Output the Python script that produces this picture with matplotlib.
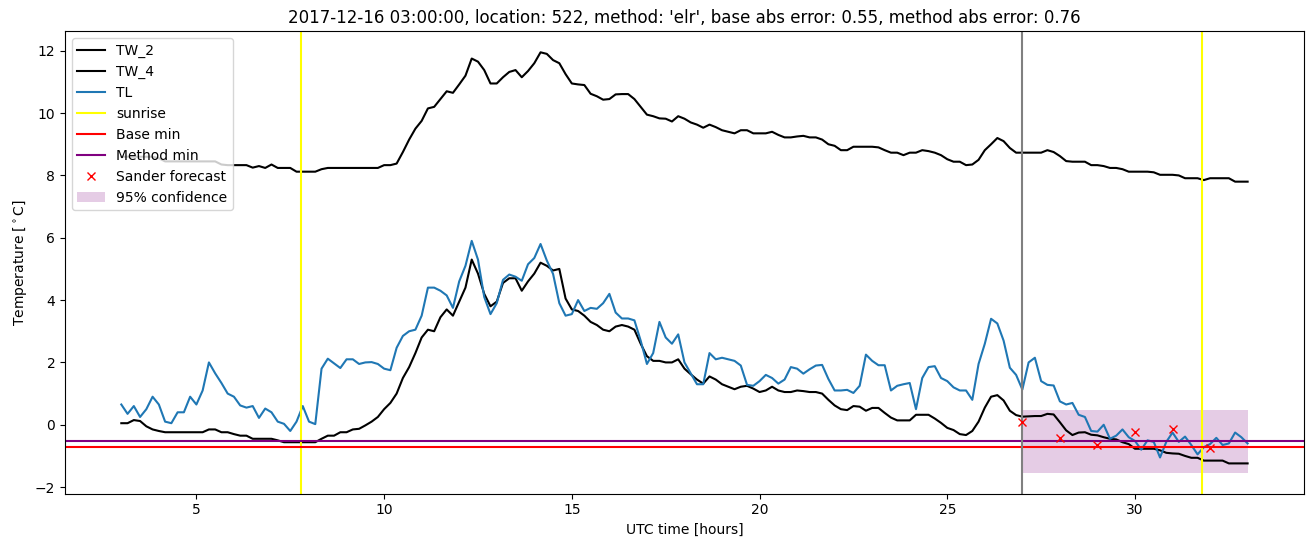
import numpy as np
import matplotlib
matplotlib.use("Agg")
import matplotlib.pyplot as plt

# temperature series, 10 minute steps from 03:00 to 33:00 (hours since midnight)
tw_2 = [0.05, 0.05, 0.15, 0.12, -0.05, -0.15,
        -0.2, -0.24, -0.24, -0.24, -0.24, -0.24,
        -0.24, -0.24, -0.15, -0.15, -0.24, -0.24,
        -0.3, -0.35, -0.35, -0.45, -0.45, -0.45,
        -0.45, -0.5, -0.56, -0.56, -0.56, -0.56,
        -0.56, -0.56, -0.45, -0.35, -0.35, -0.24,
        -0.24, -0.15, -0.13, -0.02, 0.1, 0.25,
        0.5, 0.7, 1.0, 1.5, 1.85, 2.3,
        2.8, 3.05, 3.0, 3.45, 3.7, 3.5,
        3.95, 4.4, 5.3, 4.85, 4.2, 3.8,
        3.95, 4.55, 4.7, 4.7, 4.3, 4.6,
        4.85, 5.2, 5.1, 4.95, 5.0, 4.05,
        3.7, 3.65, 3.5, 3.3, 3.2, 3.05,
        3.0, 3.15, 3.2, 3.15, 3.05, 2.6,
        2.2, 2.05, 2.05, 2.0, 2.0, 2.1,
        1.8, 1.62, 1.45, 1.32, 1.55, 1.45,
        1.3, 1.22, 1.14, 1.22, 1.25, 1.16,
        1.05, 1.1, 1.22, 1.1, 1.05, 1.05,
        1.1, 1.08, 1.05, 1.05, 1.0, 0.8,
        0.62, 0.5, 0.47, 0.6, 0.58, 0.45,
        0.54, 0.54, 0.38, 0.23, 0.14, 0.14,
        0.14, 0.32, 0.32, 0.32, 0.2, 0.06,
        -0.1, -0.17, -0.3, -0.33, -0.2, 0.1,
        0.55, 0.9, 0.95, 0.78, 0.45, 0.31,
        0.26, 0.27, 0.28, 0.28, 0.35, 0.33,
        0.08, -0.18, -0.33, -0.25, -0.24, -0.32,
        -0.34, -0.4, -0.45, -0.47, -0.56, -0.62,
        -0.77, -0.77, -0.77, -0.77, -0.82, -0.9,
        -0.92, -0.93, -1.0, -1.06, -1.06, -1.15,
        -1.15, -1.15, -1.15, -1.24, -1.24, -1.24,
        -1.24]

tw_4 = [8.6, 8.6, 8.6, 8.6, 8.6, 8.6,
        8.55, 8.45, 8.45, 8.45, 8.45, 8.45,
        8.45, 8.45, 8.45, 8.45, 8.35, 8.33,
        8.33, 8.33, 8.33, 8.25, 8.3, 8.24,
        8.35, 8.24, 8.24, 8.24, 8.12, 8.12,
        8.12, 8.12, 8.2, 8.24, 8.24, 8.24,
        8.24, 8.24, 8.24, 8.24, 8.24, 8.24,
        8.33, 8.33, 8.38, 8.75, 9.15, 9.5,
        9.75, 10.15, 10.2, 10.45, 10.7, 10.65,
        10.92, 11.2, 11.75, 11.65, 11.38, 10.95,
        10.95, 11.15, 11.32, 11.38, 11.15, 11.35,
        11.6, 11.95, 11.9, 11.7, 11.6, 11.25,
        10.95, 10.92, 10.9, 10.62, 10.54, 10.43,
        10.45, 10.6, 10.61, 10.61, 10.45, 10.2,
        9.95, 9.9, 9.83, 9.82, 9.73, 9.9,
        9.82, 9.7, 9.63, 9.53, 9.63, 9.55,
        9.45, 9.4, 9.35, 9.45, 9.45, 9.35,
        9.35, 9.35, 9.4, 9.3, 9.22, 9.22,
        9.25, 9.27, 9.22, 9.22, 9.15, 9.0,
        8.95, 8.81, 8.81, 8.92, 8.92, 8.92,
        8.92, 8.9, 8.81, 8.73, 8.73, 8.65,
        8.73, 8.73, 8.81, 8.78, 8.73, 8.65,
        8.52, 8.44, 8.44, 8.33, 8.35, 8.5,
        8.81, 9.0, 9.2, 9.1, 8.88, 8.73,
        8.73, 8.73, 8.73, 8.73, 8.81, 8.75,
        8.62, 8.46, 8.44, 8.44, 8.44, 8.33,
        8.33, 8.3, 8.24, 8.24, 8.2, 8.12,
        8.12, 8.12, 8.12, 8.1, 8.02, 8.02,
        8.02, 8.0, 7.91, 7.91, 7.91, 7.85,
        7.91, 7.91, 7.91, 7.91, 7.8, 7.8,
        7.8]

tl = [0.65, 0.35, 0.6, 0.25, 0.5, 0.9,
      0.65, 0.1, 0.05, 0.4, 0.4, 0.9,
      0.65, 1.1, 2.0, 1.65, 1.34, 1.0,
      0.9, 0.62, 0.55, 0.6, 0.22, 0.52,
      0.4, 0.1, 0.03, -0.2, 0.1, 0.6,
      0.1, 0.02, 1.8, 2.12, 1.97, 1.82,
      2.1, 2.1, 1.95, 2.0, 2.01, 1.95,
      1.8, 1.75, 2.47, 2.85, 3.0, 3.05,
      3.5, 4.4, 4.4, 4.3, 4.15, 3.75,
      4.6, 5.1, 5.9, 5.3, 4.1, 3.55,
      3.9, 4.65, 4.82, 4.75, 4.62, 5.15,
      5.35, 5.8, 5.27, 4.84, 3.9, 3.5,
      3.55, 4.0, 3.65, 3.75, 3.72, 3.9,
      4.2, 3.6, 3.41, 3.41, 3.35, 2.7,
      1.95, 2.3, 3.3, 2.8, 2.6, 2.9,
      2.0, 1.65, 1.3, 1.3, 2.3, 2.1,
      2.15, 2.1, 2.05, 1.9, 1.28, 1.25,
      1.4, 1.6, 1.5, 1.32, 1.45, 1.85,
      1.8, 1.64, 1.78, 1.9, 1.92, 1.47,
      1.1, 1.1, 1.12, 1.02, 1.25, 2.25,
      2.05, 1.91, 1.91, 1.1, 1.25, 1.3,
      1.34, 0.5, 1.5, 1.85, 1.88, 1.5,
      1.4, 1.2, 1.1, 1.1, 0.8, 1.95,
      2.6, 3.4, 3.25, 2.7, 1.83, 1.6,
      1.13, 2.0, 2.15, 1.4, 1.28, 1.26,
      0.75, 0.65, 0.7, 0.32, 0.25, -0.2,
      -0.22, 0.0, -0.45, -0.35, -0.15, -0.4,
      -0.52, -0.8, -0.5, -0.55, -1.05, -0.55,
      -0.25, -0.55, -0.38, -0.65, -0.95, -0.72,
      -0.62, -0.42, -0.65, -0.6, -0.25, -0.4,
      -0.6]

hours = np.linspace(3, 33, len(tl))

sunrise = [7.78, 31.78]
forecast_start = 27.0
base_min = -0.72
method_min = -0.53

sander_hours = [27, 28, 29, 30, 31, 32]
sander_temp = [0.09, -0.43, -0.65, -0.22, -0.15, -0.76]

conf_hours = [27, 33]
conf_low = [-1.54, -1.54]
conf_high = [0.48, 0.48]

fig = plt.figure(figsize=(13.13, 5.47), dpi=100)
ax = fig.add_subplot(111)
fig.subplots_adjust(left=0.0495, right=0.9931, bottom=0.0973, top=0.9428)

ax.plot(hours, tw_2, color="black", label="TW_2")
ax.plot(hours, tw_4, color="black", label="TW_4")
ax.plot(hours, tl, color="C0", label="TL")
ax.axvline(sunrise[0], color="yellow", label="sunrise")
ax.axvline(sunrise[1], color="yellow")
ax.axhline(base_min, color="red", label="Base min")
ax.axhline(method_min, color="purple", label="Method min")
ax.axvline(forecast_start, color="gray")
ax.plot(sander_hours, sander_temp, "x", color="red", label="Sander forecast")
ax.fill_between(conf_hours, conf_low, conf_high, color="purple", alpha=0.2,
                linewidth=0, label="95% confidence")

ax.set_title("2017-12-16 03:00:00, location: 522, method: 'elr', "
             "base abs error: 0.55, method abs error: 0.76")
ax.set_xlabel("UTC time [hours]")
ax.set_ylabel(r"Temperature [$^\circ$C]")
ax.legend(loc="upper left")

fig.savefig("out.png", dpi=100)
